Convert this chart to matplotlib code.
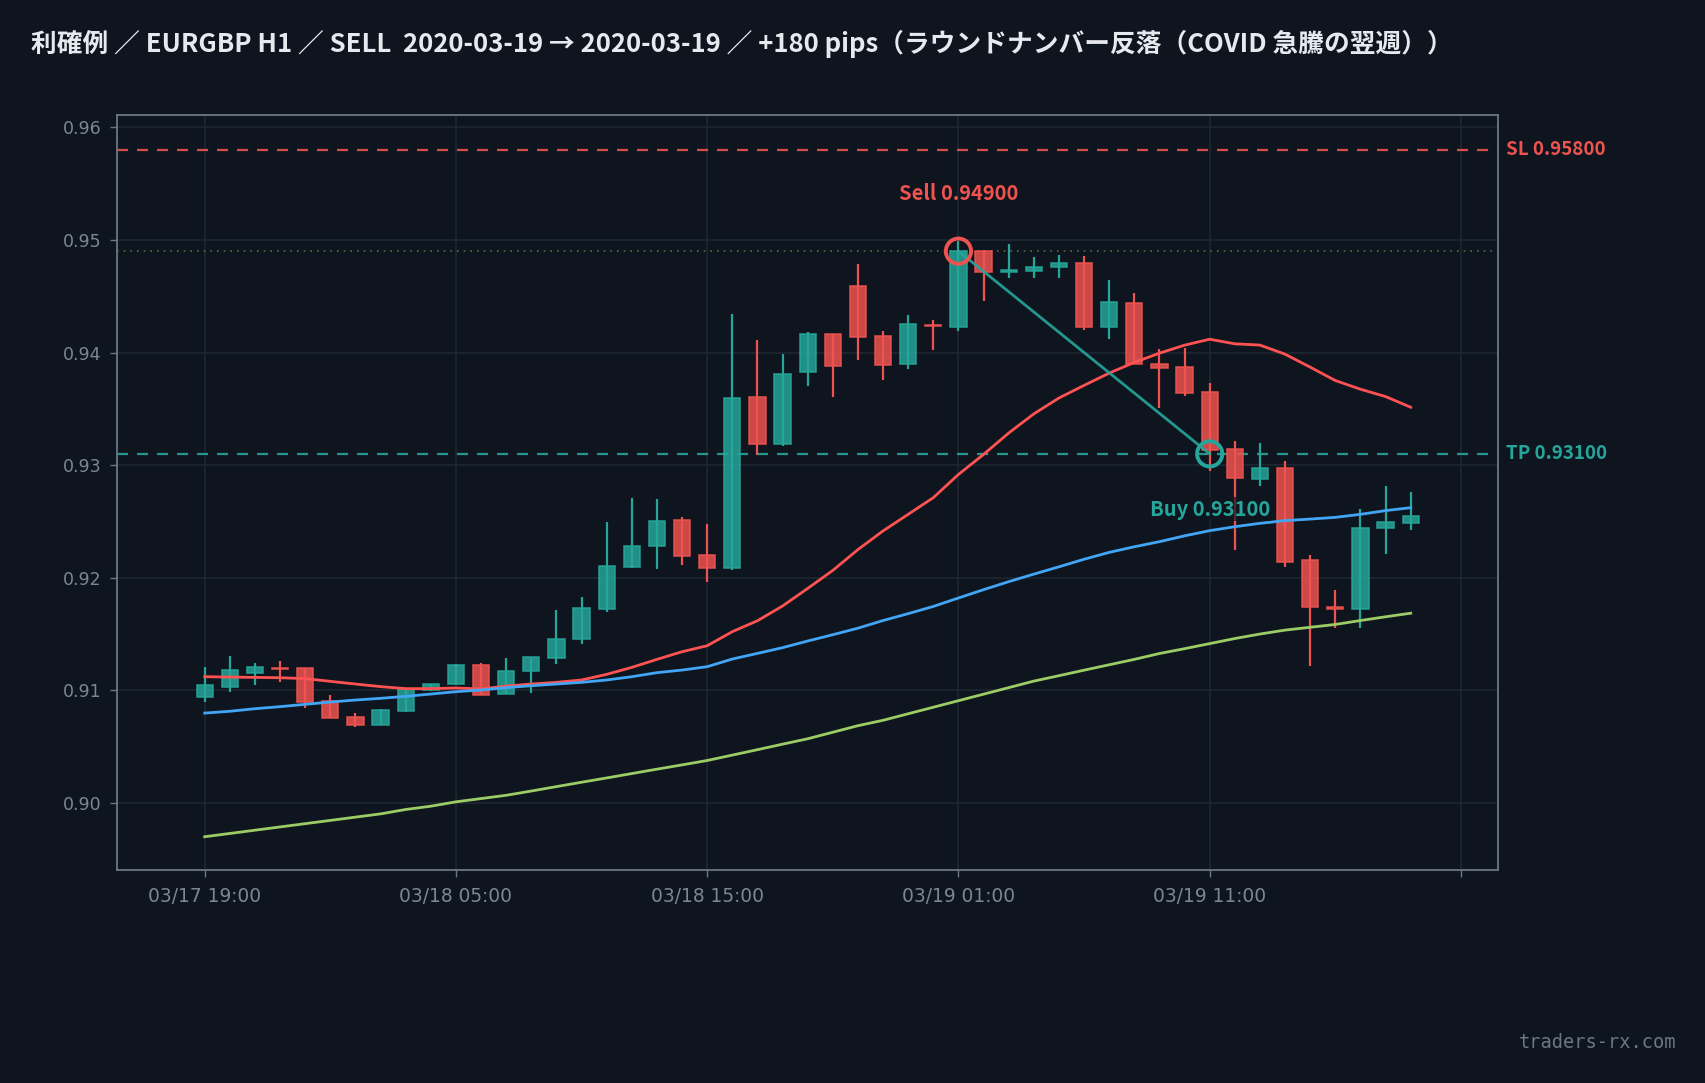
import numpy as np
import pandas as pd
import matplotlib
matplotlib.use('Agg')
import matplotlib.pyplot as plt
import matplotlib.transforms as mtransforms

plt.rcParams['font.family'] = ['Noto Sans CJK JP', 'DejaVu Sans']

# EURGBP H1, 2020-03-17 19:00 .. 2020-03-19 19:00
times = pd.date_range('2020-03-17 19:00', periods=49, freq='h')

opens = [0.90941, 0.91030, 0.91154, 0.91195, 0.91195, 0.90905, 0.90763, 0.90692, 0.90817, 0.91003,
         0.91056, 0.91225, 0.90967, 0.91172, 0.91290, 0.91453, 0.91719, 0.92092, 0.92278, 0.92509,
         0.92200, 0.92087, 0.93605, 0.93189, 0.93823, 0.94162, 0.94587, 0.94145, 0.93897, 0.94243,
         0.94224, 0.94903, 0.94711, 0.94723, 0.94755, 0.94791, 0.94230, 0.94437, 0.93902, 0.93870,
         0.93648, 0.93143, 0.92880, 0.92972, 0.92154, 0.91742, 0.91719, 0.92439, 0.92483]
highs = [0.91210, 0.91308, 0.91246, 0.91263, 0.91200, 0.90962, 0.90802, 0.90834, 0.91015, 0.91060,
         0.91237, 0.91246, 0.91290, 0.91300, 0.91713, 0.91828, 0.92494, 0.92707, 0.92698, 0.92538,
         0.92480, 0.94342, 0.94112, 0.93988, 0.94180, 0.94165, 0.94785, 0.94192, 0.94330, 0.94289,
         0.94991, 0.94914, 0.94962, 0.94847, 0.94864, 0.94855, 0.94643, 0.94528, 0.94032, 0.94044,
         0.93730, 0.93215, 0.93197, 0.93034, 0.92201, 0.91890, 0.92610, 0.92815, 0.92761]
lows = [0.90893, 0.90982, 0.91044, 0.91071, 0.90840, 0.90750, 0.90672, 0.90688, 0.90805, 0.90991,
        0.91050, 0.90955, 0.90965, 0.90973, 0.91235, 0.91408, 0.91698, 0.92088, 0.92080, 0.92115,
        0.91960, 0.92068, 0.93091, 0.93168, 0.93699, 0.93602, 0.93929, 0.93752, 0.93850, 0.94018,
        0.94195, 0.94460, 0.94664, 0.94664, 0.94664, 0.94204, 0.94124, 0.93895, 0.93503, 0.93611,
        0.92945, 0.92249, 0.92815, 0.92098, 0.91215, 0.91556, 0.91556, 0.92210, 0.92427]
closes = [0.91047, 0.91180, 0.91207, 0.91190, 0.90899, 0.90754, 0.90692, 0.90825, 0.91012, 0.91056,
          0.91225, 0.90959, 0.91172, 0.91296, 0.91460, 0.91728, 0.92101, 0.92284, 0.92500, 0.92189,
          0.92087, 0.93596, 0.93189, 0.93808, 0.94162, 0.93879, 0.94136, 0.93888, 0.94251, 0.94236,
          0.94900, 0.94711, 0.94732, 0.94758, 0.94794, 0.94230, 0.94445, 0.93897, 0.93862, 0.93640,
          0.93134, 0.92884, 0.92972, 0.92142, 0.91742, 0.91719, 0.92439, 0.92492, 0.92545]

# moving averages
ma_fast = [0.91121, 0.91118, 0.91115, 0.91112, 0.91104, 0.91080, 0.91056, 0.91033, 0.91015, 0.91015,
           0.91021, 0.91012, 0.91038, 0.91056, 0.91071, 0.91092, 0.91142, 0.91204, 0.91275, 0.91343,
           0.91396, 0.91521, 0.91618, 0.91749, 0.91905, 0.92065, 0.92250, 0.92416, 0.92563, 0.92711,
           0.92917, 0.93095, 0.93285, 0.93455, 0.93596, 0.93708, 0.93817, 0.93912, 0.93994, 0.94065,
           0.94118, 0.94077, 0.94066, 0.93985, 0.93870, 0.93751, 0.93674, 0.93609, 0.93514]
ma_mid = [0.90798, 0.90814, 0.90837, 0.90855, 0.90876, 0.90896, 0.90914, 0.90929, 0.90947, 0.90967,
          0.90988, 0.91003, 0.91024, 0.91041, 0.91056, 0.91071, 0.91092, 0.91121, 0.91157, 0.91180,
          0.91210, 0.91278, 0.91328, 0.91379, 0.91438, 0.91494, 0.91552, 0.91620, 0.91681, 0.91745,
          0.91820, 0.91894, 0.91965, 0.92032, 0.92097, 0.92164, 0.92225, 0.92275, 0.92320, 0.92372,
          0.92418, 0.92453, 0.92483, 0.92507, 0.92521, 0.92536, 0.92563, 0.92596, 0.92622]
ma_slow = [0.89700, 0.89729, 0.89758, 0.89787, 0.89816, 0.89845, 0.89874, 0.89903, 0.89942, 0.89971,
           0.90010, 0.90039, 0.90068, 0.90106, 0.90145, 0.90184, 0.90222, 0.90261, 0.90300, 0.90338,
           0.90377, 0.90425, 0.90473, 0.90522, 0.90570, 0.90628, 0.90686, 0.90734, 0.90792, 0.90850,
           0.90908, 0.90966, 0.91024, 0.91082, 0.91130, 0.91179, 0.91227, 0.91275, 0.91327, 0.91370,
           0.91415, 0.91460, 0.91500, 0.91535, 0.91560, 0.91585, 0.91620, 0.91653, 0.91685]

entry_idx, exit_idx = 30, 40
entry_price, exit_price = 0.949, 0.931
sl, tp = 0.958, 0.931

bg = '#0e151f'
up = '#26a69a'
down = '#ef5350'
grid_c = '#1e2833'
spine_c = '#6b7785'
tick_c = '#7d8794'

fig = plt.figure(figsize=(17.06, 10.83), dpi=100, facecolor=bg)
ax = fig.add_axes([0.0683, 0.1963, 0.8097, 0.6972])
ax.set_facecolor(bg)

x = np.arange(len(opens))
o = np.array(opens)
c = np.array(closes)
cols = [up if cc >= oo else down for oo, cc in zip(o, c)]

ax.vlines(x, lows, highs, colors=cols, lw=1.6, zorder=2)
ax.bar(x, c - o, bottom=o, width=0.65, color=cols, alpha=0.85, edgecolor=cols,
       linewidth=1.2, zorder=3)

ax.plot(x, ma_fast, color='#ff5252', lw=2, zorder=4)
ax.plot(x, ma_mid, color='#42a5f5', lw=2, zorder=4)
ax.plot(x, ma_slow, color='#9ccc65', lw=2, zorder=4)

ax.axhline(sl, color=down, lw=1.6, ls=(0, (5, 4)), alpha=0.9, zorder=1)
ax.axhline(tp, color=up, lw=1.6, ls=(0, (5, 4)), alpha=0.9, zorder=1)
ax.axhline(entry_price, color='#5b6e3c', lw=1.2, ls=(0, (1, 3)), zorder=1)

ax.plot([entry_idx, exit_idx], [entry_price, exit_price], color=up, lw=2, alpha=0.9, zorder=5)
ax.scatter([entry_idx], [entry_price], s=330, facecolors='none', edgecolors=down, linewidths=2.8, zorder=6)
ax.scatter([exit_idx], [exit_price], s=330, facecolors='none', edgecolors=up, linewidths=2.8, zorder=6)

ax.text(entry_idx, 0.9541, 'Sell 0.94900', color=down, fontsize=14.5, fontweight='bold',
        ha='center', va='center', zorder=7)
ax.text(exit_idx, 0.9261, 'Buy 0.93100', color=up, fontsize=14.5, fontweight='bold',
        ha='center', va='center', zorder=7,
        bbox=dict(facecolor=bg, edgecolor='none', alpha=0.7, pad=1))

trans = mtransforms.blended_transform_factory(ax.transAxes, ax.transData)
ax.text(1.006, sl, 'SL 0.95800', color=down, fontsize=13.5, fontweight='bold',
        ha='left', va='center', transform=trans)
ax.text(1.006, tp, 'TP 0.93100', color=up, fontsize=13.5, fontweight='bold',
        ha='left', va='center', transform=trans)

ax.set_xlim(-3.51, 51.47)
ax.set_ylim(0.89401, 0.96106)

xt = np.arange(0, 51, 10)
xl = [times[i].strftime('%m/%d %H:%M') if i < len(times) else '' for i in xt]
yt = np.arange(0.90, 0.9601, 0.01)
ax.set_xticks(xt)
ax.set_xticklabels(xl, family='DejaVu Sans', fontsize=13.4)
ax.set_yticks(yt)
ax.set_yticklabels([f'{v:.2f}' for v in yt], family='DejaVu Sans', fontsize=12.5)

ax.grid(True, color=grid_c, lw=1.1, zorder=0)
ax.set_axisbelow(True)
for s in ax.spines.values():
    s.set_color(spine_c)
    s.set_linewidth(1.3)
ax.tick_params(colors=spine_c, labelcolor=tick_c, length=5, width=1)
ax.tick_params(axis='x', pad=7)
ax.tick_params(axis='y', pad=6)

fig.text(31.5 / 1706, 1 - 44 / 1083,
         '利確例 ／ EURGBP H1 ／ SELL  2020-03-19 → 2020-03-19 ／ +180 pips（ラウンドナンバー反落（COVID 急騰の翌週））',
         color='#e6e9ee', fontsize=18.5, fontweight='bold', ha='left', va='center')
fig.text(1676 / 1706, 1 - 1042 / 1083, 'traders-rx.com', color=spine_c, fontsize=13.4,
         family='DejaVu Sans Mono', ha='right', va='center')

fig.savefig('out.png', dpi=100, facecolor=bg)
